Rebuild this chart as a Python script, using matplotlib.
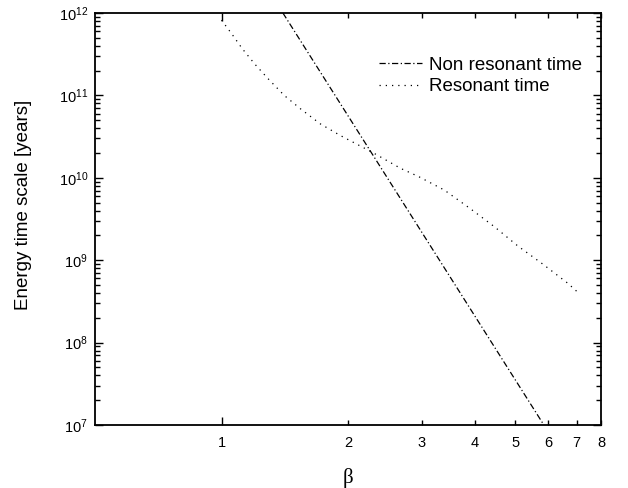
import matplotlib
matplotlib.use("Agg")
import matplotlib.pyplot as plt
from matplotlib.ticker import FixedLocator, FixedFormatter, LogLocator, NullFormatter
import numpy as np

plt.rcParams['font.family'] = ['Liberation Sans', 'DejaVu Sans']
plt.rcParams['mathtext.fontset'] = 'custom'
plt.rcParams['mathtext.rm'] = 'Liberation Sans'
plt.rcParams['mathtext.it'] = 'Liberation Sans:italic'

# Data
nonres_beta = [1.40, 5.85]
nonres_time = [1e12, 1e7]

res_beta = [1.00, 1.06, 1.12, 1.20, 1.29, 1.41, 1.54, 1.72, 1.92, 2.15, 2.30, 2.67,
            2.95, 3.39, 3.89, 4.46, 5.07, 5.81, 6.67, 7.00]
res_time = [8.2e11, 5.5e11, 3.7e11, 2.4e11, 1.6e11, 1.0e11, 6.9e10, 4.5e10, 3.25e10,
            2.4e10, 2.0e10, 1.3e10, 1.03e10, 7.1e9, 4.3e9, 2.55e9, 1.49e9, 9.0e8,
            5.25e8, 4.2e8]

x_major = [1]
x_minor = [2, 3, 4, 5, 6, 7, 8]
x_major_labels = ["1"]
x_minor_labels = ["2", "3", "4", "5", "6", "7", "8"]

fig = plt.figure(figsize=(6.28, 4.88), dpi=100)
ax = fig.add_axes([95/628, 1-425/488, (601-95)/628, (425-13)/488])

ax.plot(nonres_beta, nonres_time, color='black', lw=0.9,
        linestyle=(0, (5, 2, 1, 2)), label='Non resonant time')
ax.plot(res_beta, res_time, color='black', lw=0.9,
        linestyle=(0, (1, 4)), label='Resonant time')

ax.set_xscale('log')
ax.set_yscale('log')
ax.set_xlim(0.5, 8)
ax.set_ylim(1e7, 1e12)

ax.xaxis.set_major_locator(FixedLocator(x_major))
ax.xaxis.set_major_formatter(FixedFormatter(x_major_labels))
ax.xaxis.set_minor_locator(FixedLocator(x_minor))
ax.xaxis.set_minor_formatter(FixedFormatter(x_minor_labels))

ax.yaxis.set_major_locator(LogLocator(base=10, numticks=10))
ax.yaxis.set_minor_locator(LogLocator(base=10, subs=np.arange(2, 10), numticks=20))
ax.yaxis.set_minor_formatter(NullFormatter())

ax.tick_params(which='both', direction='in', top=True, right=True, width=1.0)
ax.tick_params(which='major', length=6, labelsize=10.5, pad=8)
ax.tick_params(which='minor', length=3.5, labelsize=10.5, pad=8)
ax.tick_params(axis='y', which='major', pad=5)

for s in ax.spines.values():
    s.set_linewidth(1.3)

ax.set_ylabel('Energy time scale [years]', fontsize=13.5)
ax.yaxis.set_label_coords(-0.125, 0.535)
ax.set_xlabel('β', fontsize=15, family=['Liberation Serif', 'DejaVu Serif'], labelpad=13)

leg = ax.legend(loc='upper right', frameon=False, fontsize=13.5,
                handlelength=2.3, handletextpad=0.4, labelspacing=0.25,
                bbox_to_anchor=(1.0, 0.94), borderaxespad=0.6)

fig.savefig('out.png', dpi=100)
